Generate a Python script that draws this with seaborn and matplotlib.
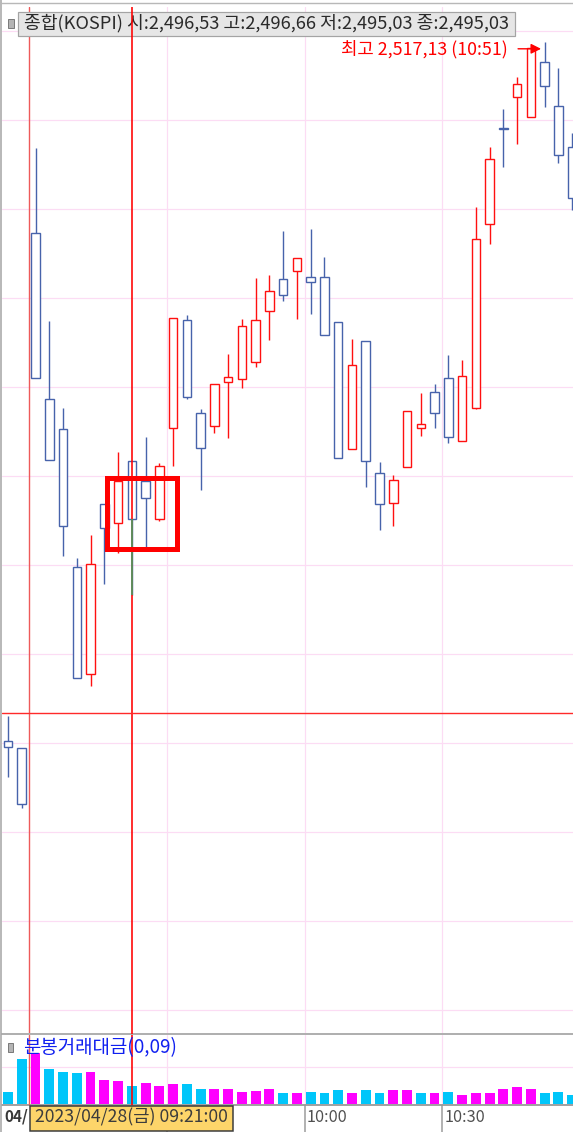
"""
종합(KOSPI) 3분봉 캔들 + 분봉거래대금 차트
"""
import numpy as np
import pandas as pd
import matplotlib
matplotlib.use("Agg")
import matplotlib.pyplot as plt
from matplotlib.patches import Rectangle
from matplotlib.lines import Line2D
import seaborn as sns

# ---- 데이터: 전일 마지막 2봉(-2, -1) + 당일 09:00 부터 3분봉 ----
candle_idx = list(range(-2, 40))
open_px = [2485.71, 2485.43, 2508.55, 2501.09, 2499.74, 2493.53, 2488.74, 2496.37, 2495.54, 2498.31,
           2497.41, 2495.69, 2499.80, 2504.65, 2500.48, 2499.90, 2501.86, 2502.01, 2502.75, 2505.05,
           2506.48, 2506.87, 2506.60, 2506.60, 2504.57, 2498.85, 2503.71, 2497.77, 2496.42, 2498.04,
           2499.78, 2501.43, 2502.03, 2499.22, 2500.71, 2508.96, 2513.27, 2514.69, 2513.76, 2516.26,
           2514.28, 2512.41]
high_px = [2486.86, 2485.43, 2512.37, 2504.60, 2500.68, 2493.94, 2494.99, 2496.37, 2498.73, 2498.31,
           2499.40, 2498.21, 2504.73, 2504.87, 2500.64, 2501.76, 2503.11, 2504.69, 2506.55, 2506.69,
           2508.65, 2507.42, 2508.73, 2507.49, 2504.57, 2503.78, 2503.71, 2498.25, 2497.68, 2500.56,
           2501.38, 2501.77, 2503.08, 2502.85, 2509.71, 2512.41, 2514.12, 2515.58, 2516.86, 2517.13,
           2515.99, 2513.05]
low_px = [2484.12, 2482.70, 2502.03, 2498.36, 2494.06, 2488.55, 2488.20, 2492.77, 2494.16, 2492.29,
          2494.46, 2495.62, 2498.09, 2501.09, 2497.01, 2499.56, 2499.36, 2501.58, 2502.55, 2503.75,
          2505.52, 2504.69, 2504.91, 2503.98, 2498.43, 2498.85, 2497.16, 2495.21, 2495.39, 2498.04,
          2499.44, 2499.78, 2499.11, 2499.22, 2500.65, 2508.07, 2511.51, 2512.56, 2513.76, 2514.21,
          2511.72, 2509.59]
close_px = [2485.44, 2482.88, 2502.03, 2498.36, 2495.40, 2488.55, 2493.67, 2495.29, 2497.41, 2495.69,
            2496.64, 2498.09, 2504.73, 2501.20, 2498.91, 2501.76, 2502.10, 2504.38, 2504.66, 2505.94,
            2505.79, 2507.42, 2506.34, 2503.98, 2498.43, 2502.63, 2498.31, 2496.37, 2497.46, 2500.56,
            2499.96, 2500.46, 2499.38, 2502.15, 2508.29, 2511.87, 2513.25, 2515.26, 2516.86, 2515.17,
            2512.07, 2510.12]
value_jo = [0.12, 0.45, 0.51, 0.35, 0.32, 0.31, 0.32, 0.24, 0.23, 0.18,
            0.21, 0.18, 0.20, 0.20, 0.15, 0.15, 0.15, 0.12, 0.13, 0.15,
            0.11, 0.11, 0.12, 0.11, 0.14, 0.11, 0.14, 0.11, 0.14, 0.14,
            0.11, 0.11, 0.12, 0.09, 0.11, 0.11, 0.15, 0.17, 0.15, 0.11,
            0.12, 0.09]

time_labels = ["10:00", "10:30"]
time_label_idx = [20, 30]
tick_idx = [10, 20, 30]          # 09:30 눈금은 커서 박스 뒤에 가려짐
day_label = "04/"
cursor_idx = 7
cursor_price = 2486.99
cursor_text = "2023/04/28(금) 09:21:00"
header_text = "종합(KOSPI) 시:2,496,53 고:2,496,66 저:2,495,03 종:2,495,03"
volume_title = "분봉거래대금(0,09)"
peak_text = "최고 2,517,13 (10:51)"
highlight_idx = (5.2, 10.3)
highlight_price = (2494.36, 2497.53)

# ---- 스타일 ----
BLUE = "#4763ab"
RED = "#ff1010"
MAGENTA = "#ff00ff"
CYAN = "#00c6fa"
GRID = "#fcdcf4"
FRAME = "#a8a8a8"

W, H = 573, 1132
X0, XSTEP = 35.5, 13.76          # 봉 중심 픽셀 위치 / 간격
PX_PER_PT = 22.25                # 세로 픽셀 / 포인트
P_AT_0 = 2517.13 + 42.3 / PX_PER_PT


def fx(px):
    return px / W


def fy(py):
    return 1 - py / H


def price_at(py):
    return P_AT_0 - py / PX_PER_PT


def lw(px):
    return px * 0.72


sns.set_style("white")
plt.rcParams['font.family'] = ['Noto Sans CJK KR', 'DejaVu Sans']
plt.rcParams['axes.unicode_minus'] = False

df = pd.DataFrame(dict(i=candle_idx, o=open_px, h=high_px, l=low_px, c=close_px, v=value_jo))
df['top'] = df[['o', 'c']].max(axis=1)
df['bot'] = df[['o', 'c']].min(axis=1)
df['color'] = np.where(df.c > df.o, RED, BLUE)
df['dir'] = np.where(df.c.diff().fillna(-1) >= 0, '상승', '하락')

fig = plt.figure(figsize=(W / 100, H / 100), dpi=100)
xlim = ((2 - X0) / XSTEP, (573 - X0) / XSTEP)
ax = fig.add_axes([fx(2), fy(1034), fx(573) - fx(2), (1034 - 7) / H])
axv = fig.add_axes([fx(2), fy(1105), fx(573) - fx(2), 70 / H])
axl = fig.add_axes([fx(2), 0, fx(573) - fx(2), 27 / H])

vgrid = [k - 0.45 for k in (0, 10, 20, 30)]

# ---- 가격 패널 ----
for n in range(12):
    ax.axhline(price_at(31 + 89 * n), color=GRID, lw=lw(1.2), zorder=0.5)
for g in vgrid[1:]:
    ax.axvline(g, color=GRID, lw=lw(1.2), zorder=0.5)
ax.axvline(vgrid[0], color="#ee5a5a", lw=lw(1.4), zorder=1)

ax.vlines(df.i, df.top, df.h, colors=df.color, lw=lw(1.4), zorder=2)
ax.vlines(df.i, df.l, df.bot, colors=df.color, lw=lw(1.4), zorder=2)
ax.bar(df.i, (df.top - df.bot).clip(lower=0.03), bottom=df.bot, width=0.62,
       facecolor='white', edgecolor=df.color, linewidth=lw(1.4), zorder=3)

ax.axvline(cursor_idx, color="#ff0000", lw=lw(1.6), zorder=4)
ax.axhline(cursor_price, color="#ff2a2a", lw=lw(1.4), zorder=4)
cur = df[df.i == cursor_idx].iloc[0]
ax.vlines(cursor_idx, cur.l, cur.bot, colors="#3fa66a", lw=lw(1.6), zorder=4.5)

ax.add_patch(Rectangle((highlight_idx[0], highlight_price[0]),
                       highlight_idx[1] - highlight_idx[0],
                       highlight_price[1] - highlight_price[0],
                       fill=False, ec="#ff0000", lw=lw(5), zorder=5))

# 최고가 표시
peak = df.loc[df.h.idxmax()]
y_lab = peak.h - 6.5 / PX_PER_PT
t_peak = ax.text(peak.i - 2.66, y_lab, peak_text, ha='right', va='center',
                 color="#ff0000", fontsize=10, zorder=6)
ax.annotate('', xy=(peak.i - 0.26, y_lab), xytext=(peak.i - 1.93, y_lab),
            arrowprops=dict(arrowstyle='-|>', color="#ff0000", lw=lw(1.4),
                            mutation_scale=15, shrinkA=0, shrinkB=0), zorder=6)

# 상단 종목 정보 박스
ax.add_patch(Rectangle((fx(17.5), fy(35.5)), fx(515) - fx(17.5), 23.5 / H,
                       transform=fig.transFigure, fc="#e6e6e6", ec="#a4a4a4",
                       lw=lw(1.2), zorder=3.5, clip_on=False))
ax.add_patch(Rectangle((fx(8), fy(27.5)), fx(5.5), 9 / H, transform=fig.transFigure,
                       fc="#b4b4b4", ec="#7c7c7c", lw=lw(1), zorder=3.6, clip_on=False))
t_head = ax.text(fx(24), fy(23.5), header_text, transform=fig.transFigure,
                 ha='left', va='center', color="#2a2a2a", fontsize=10,
                 zorder=3.7, clip_on=False)

ax.set_xlim(xlim)
ax.set_ylim(price_at(1034), price_at(7))
ax.set_xticks([])
ax.set_yticks([])
for s in ['top', 'right', 'left']:
    ax.spines[s].set_visible(False)
ax.spines['bottom'].set_color("#b0b0b0")
ax.spines['bottom'].set_linewidth(lw(2))

# ---- 거래대금 패널 ----
axv.axhline(0.37, color=GRID, lw=lw(1.2), zorder=0)
for g in vgrid[1:]:
    axv.axvline(g, color=GRID, lw=lw(1.2), zorder=0)
sns.barplot(data=df, x='i', y='v', hue='dir', palette={'상승': MAGENTA, '하락': CYAN},
            native_scale=True, width=0.72, dodge=False, legend=False, saturation=1,
            errorbar=None, linewidth=0, ax=axv, zorder=2)
axv.axvline(vgrid[0], color="#ee5a5a", lw=lw(1.4), zorder=3)
axv.axvline(cursor_idx, color="#ff0000", lw=lw(1.6), zorder=3)
axv.set_xlim(xlim)
axv.set_ylim(-0.01, 0.69)
axv.set_xticks([])
axv.set_yticks([])
axv.set_xlabel('')
axv.set_ylabel('')
for s in ['top', 'right', 'left']:
    axv.spines[s].set_visible(False)
axv.spines['bottom'].set_color("#8c8c8c")
axv.spines['bottom'].set_linewidth(lw(1.6))

axv.add_patch(Rectangle((fx(7.5), fy(1052)), fx(5.5), 9 / H, transform=fig.transFigure,
                        fc="#b4b4b4", ec="#7c7c7c", lw=lw(1), zorder=5, clip_on=False))
t_vol = axv.text(fx(23.5), fy(1048), volume_title, transform=fig.transFigure,
                 ha='left', va='center', color="#1020f0", fontsize=10, zorder=5)

# ---- 시간축 ----
axl.set_xlim(xlim)
axl.set_ylim(0, 1)
axl.axis('off')
y_txt = (H - 1117) / 27
for k in tick_idx:
    axl.axvline(k - 0.45, color="#9a9a9a", lw=lw(1.5))
t_times = [axl.text(k - 0.45 + 0.15, y_txt, lab, ha='left', va='center',
                    color="#505050", fontsize=10)
           for k, lab in zip(time_label_idx, time_labels)]
t_day = axl.text((4 - X0) / XSTEP, y_txt, day_label, ha='left', va='center',
                 color="#383838", fontsize=10, fontweight='bold')
half = 101.5 / XSTEP
axl.add_patch(Rectangle((cursor_idx - half, 0.05), 2 * half, 0.92,
                        fc="#fdd56a", ec="#3a3a3a", lw=lw(1.5), zorder=5, clip_on=False))
t_cur = axl.text(cursor_idx, y_txt, cursor_text, ha='center', va='center',
                 color="#3c3c3c", fontsize=10, zorder=6)

# 테두리
fig.add_artist(Line2D([fx(1.2), fx(1.2)], [0, 1], transform=fig.transFigure,
                      color=FRAME, lw=lw(1.6)))
fig.add_artist(Line2D([0, 1], [fy(2.5), fy(2.5)], transform=fig.transFigure,
                      color="#b8b8b8", lw=lw(1.4)))

# ---- 글자 크기를 원본 폭에 맞춤 ----
fig.canvas.draw()
rend = fig.canvas.get_renderer()


def fit(t, width_px):
    t.set_fontsize(t.get_fontsize() * width_px / t.get_window_extent(rend).width)


fit(t_head, 486)
fit(t_vol, 154)
fit(t_peak, 167)
fit(t_cur, 194)
fit(t_times[0], 41)
t_times[1].set_fontsize(t_times[0].get_fontsize())
fit(t_day, 24)

fig.savefig("out.png", dpi=100)
